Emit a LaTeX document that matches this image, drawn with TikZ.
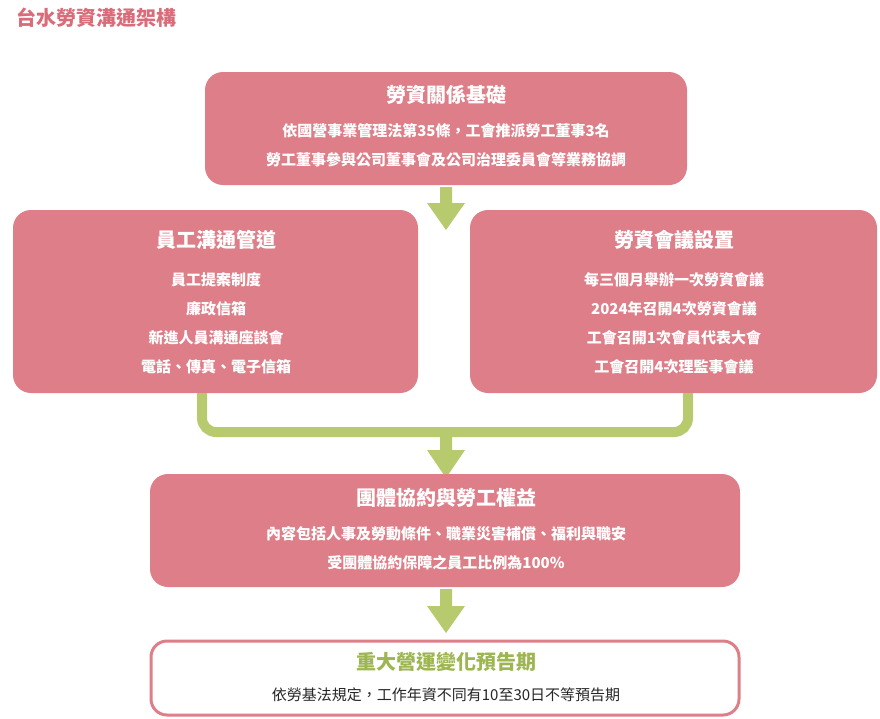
\documentclass[tikz,border=0pt]{standalone}
\usepackage{fontspec}
\setmainfont{Noto Sans CJK TC}
\newfontfamily\cjkb{Noto Sans CJK TC Bold}
\definecolor{pk}{HTML}{DE7E88}
\definecolor{gr}{HTML}{B7CB6E}
\definecolor{tp}{HTML}{DA6C7A}
\definecolor{tg}{HTML}{9DB651}
\begin{document}
\begin{tikzpicture}[x=1pt,y=-1pt,
  pbox/.style={fill=pk,rounded corners=18pt},
  ttl/.style={text=white,font=\fontsize{20}{24}\selectfont\bfseries},
  bdy/.style={text=white,font=\fontsize{15}{29}\selectfont\bfseries,align=center},
  garrow/.style={fill=gr}]
\useasboundingbox (0,0) rectangle (880,718);
\node[anchor=west,text=tp,font=\fontsize{20}{24}\selectfont\bfseries] (title) at (13,18) {台水勞資溝通架構};
% box1
\path[pbox] (205,72) rectangle (687,185);
\node[ttl] (t1) at (446,95) {勞資關係基礎};
\node[bdy] (b1) at (446,145) {依國營事業管理法第35條，工會推派勞工董事3名\\勞工董事參與公司董事會及公司治理委員會等業務協調};
% arrow 1
\path[garrow] (440,187)--(452,187)--(452,203)--(465,203)--(446,230)--(427,203)--(440,203)--cycle;
% box2 & 3
\path[pbox] (13,210) rectangle (418,393);
\node[ttl] (t2) at (216,240) {員工溝通管道};
\node[bdy] (b2) at (216,323) {員工提案制度\\廉政信箱\\新進人員溝通座談會\\電話、傳真、電子信箱};
\path[pbox] (470,210) rectangle (877,393);
\node[ttl] (t3) at (674,240) {勞資會議設置};
\node[bdy] (b3) at (674,323) {每三個月舉辦一次勞資會議\\2024年召開4次勞資會議\\工會召開1次會員代表大會\\工會召開4次理監事會議};
% U connector
\coordinate (ul) at (202,393);
\coordinate (ur) at (688,393);
\draw[gr,line width=10pt,rounded corners=14pt] (ul)--(202,432)--(688,432)--(ur);
\path[garrow] (440,432)--(452,432)--(452,450)--(465,450)--(446,478)--(427,450)--(440,450)--cycle;
% box4
\path[pbox] (150,474) rectangle (740,587);
\node[ttl] (t4) at (446,498) {團體協約與勞工權益};
\node[bdy] (b4) at (446,548) {內容包括人事及勞動條件、職業災害補償、福利與職安\\受團體協約保障之員工比例為100\%};
\path[garrow] (440,589)--(452,589)--(452,606)--(465,606)--(446,633)--(427,606)--(440,606)--cycle;
% box5
\draw[draw=pk,line width=3pt,fill=white,rounded corners=16pt] (151,641) rectangle (739,715);
\node[ttl,text=tg] (t5) at (446,662) {重大營運變化預告期};
\node[font=\fontsize{15}{20}\selectfont,text=black!85] (b5) at (446,695) {依勞基法規定，工作年資不同有10至30日不等預告期};
\end{tikzpicture}
\end{document}
